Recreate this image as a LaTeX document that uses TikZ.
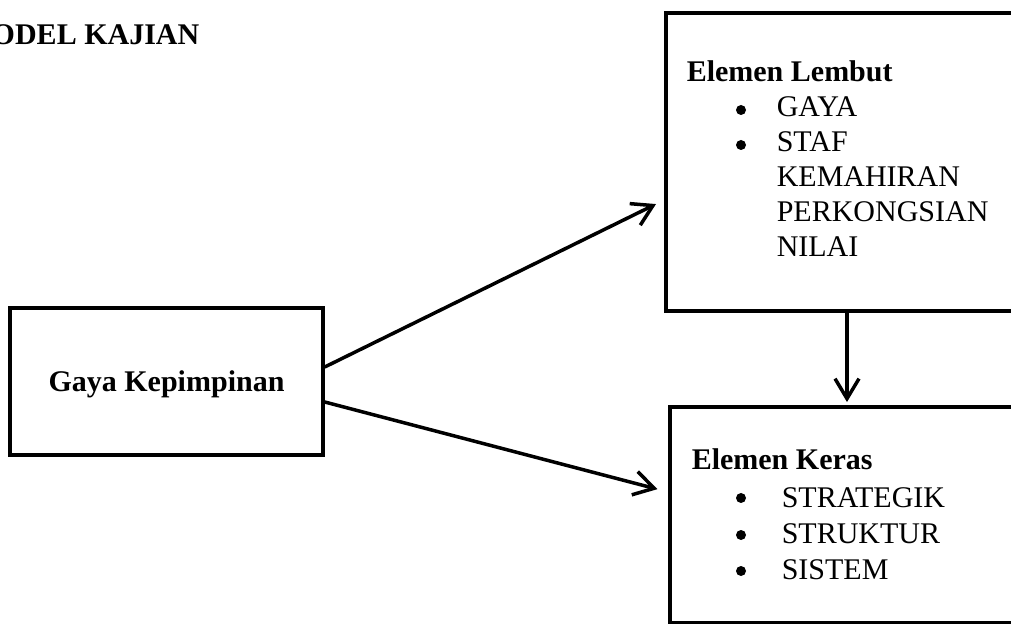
\documentclass[tikz,border=0pt]{standalone}
\usepackage{fontspec}
\setmainfont{Liberation Serif}
\usepackage{tikz}
\usetikzlibrary{arrows.meta,calc}

\begin{document}
\begin{tikzpicture}[x=0.5pt, y=-0.5pt, line width=1.75pt, font=\fontsize{15pt}{18pt}\selectfont, box node/.style={draw, rectangle, inner sep=0pt}, text node/.style={anchor=base west, inner sep=0pt}, head node/.style={text node, font=\fontsize{15pt}{18pt}\selectfont\bfseries}, dot node/.style={circle, fill, inner sep=0pt, minimum size=5pt}, arrow/.style={-{Straight Barb[length=10pt, width=12pt]}}]
\useasboundingbox (0,0) rectangle (1011,624);
\node[head node] (0) at (-10,45) {ODEL KAJIAN};
\node[box node, minimum width=156.5pt, minimum height=73.5pt, text depth=0pt, font=\fontsize{15pt}{18pt}\selectfont\bfseries] (1) at (166.5,381.5) {Gaya Kepimpinan};
\node[box node, minimum width=182pt, minimum height=149pt] (2) at (848,162) {};
\node[box node, minimum width=180pt, minimum height=108pt] (3) at (850,515) {};
\node[head node] (4) at (685,82) {Elemen Lembut};
\node[dot node] (5) at (741,110) {};
\node[text node] (6) at (775,117) {GAYA};
\node[dot node] (7) at (741,145) {};
\node[text node] (8) at (775,152) {STAF};
\node[text node] (9) at (775,187) {KEMAHIRAN};
\node[text node] (10) at (775,222) {PERKONGSIAN};
\node[text node] (11) at (775,257) {NILAI};
\node[head node] (12) at (690,470) {Elemen Keras};
\node[dot node] (13) at (741,498) {};
\node[text node] (14) at (780,508) {STRATEGIK};
\node[dot node] (15) at (741,535) {};
\node[text node] (16) at (780,544) {STRUKTUR};
\node[dot node] (17) at (741,571) {};
\node[text node] (18) at (780,579) {SISTEM};
\path
([yshift=7.25pt]1.east) edge[arrow, shorten >=4.6pt] ([yshift=-19pt]2.west)
([yshift=-10.25pt]1.east) edge[arrow, shorten >=5.6pt] ([yshift=11.5pt]3.west)
([xshift=-0.5pt]2.south) edge[arrow, shorten >=1.6pt] ([xshift=-1.5pt]3.north);
\end{tikzpicture}
\end{document}
